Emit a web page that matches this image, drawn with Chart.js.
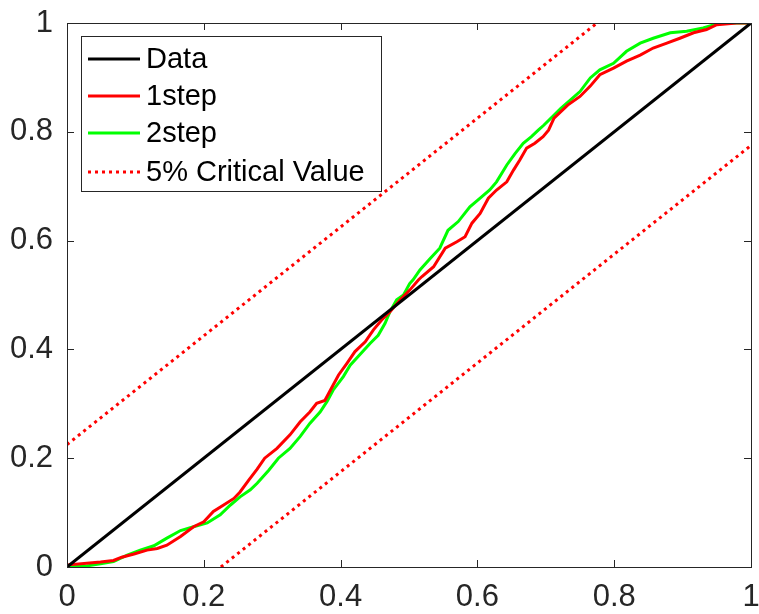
<!DOCTYPE html>
<html>
<head>
<meta charset="utf-8">
<script src="https://cdn.jsdelivr.net/npm/chart.js@4.4.1/dist/chart.umd.min.js"></script>
<style>
  html, body { margin: 0; padding: 0; background: #fff; }
  #wrap { width: 759px; height: 614px; }
</style>
</head>
<body>
<div id="wrap"><canvas id="c" width="759" height="614"></canvas></div>
<script>
// tick labels
const xTicks = [0, 0.2, 0.4, 0.6, 0.8, 1];
const yTicks = [0, 0.2, 0.4, 0.6, 0.8, 1];

// reference (45 degree) line
const dataX = [0, 1];
const dataY = [0, 1];

// 1step curve
const step1X = [0, 0.002, 0.029, 0.049, 0.068, 0.080, 0.098, 0.117, 0.132, 0.146, 0.166, 0.185, 0.200, 0.214, 0.229, 0.244, 0.253, 0.266, 0.278, 0.289, 0.307, 0.326, 0.341, 0.355, 0.365, 0.377, 0.385, 0.397, 0.409, 0.421, 0.436, 0.448, 0.460, 0.472, 0.487, 0.501, 0.514, 0.519, 0.536, 0.553, 0.570, 0.582, 0.592, 0.604, 0.616, 0.628, 0.643, 0.653, 0.662, 0.672, 0.684, 0.696, 0.704, 0.712, 0.732, 0.750, 0.765, 0.779, 0.799, 0.818, 0.838, 0.857, 0.877, 0.896, 0.916, 0.935, 0.950, 0.979, 1];
const step1Y = [0, 0.004, 0.007, 0.009, 0.012, 0.018, 0.024, 0.031, 0.034, 0.040, 0.056, 0.074, 0.083, 0.102, 0.114, 0.126, 0.138, 0.160, 0.180, 0.200, 0.218, 0.243, 0.267, 0.285, 0.301, 0.306, 0.325, 0.353, 0.374, 0.396, 0.414, 0.436, 0.454, 0.469, 0.491, 0.509, 0.528, 0.534, 0.552, 0.586, 0.598, 0.607, 0.632, 0.650, 0.678, 0.693, 0.708, 0.730, 0.748, 0.770, 0.779, 0.791, 0.803, 0.825, 0.849, 0.865, 0.884, 0.905, 0.917, 0.930, 0.941, 0.954, 0.963, 0.972, 0.982, 0.988, 0.997, 1.0, 1];

// 2step curve
const step2X = [0, 0.029, 0.049, 0.068, 0.088, 0.107, 0.127, 0.146, 0.166, 0.185, 0.205, 0.224, 0.239, 0.253, 0.268, 0.278, 0.295, 0.309, 0.326, 0.341, 0.355, 0.370, 0.380, 0.389, 0.404, 0.414, 0.428, 0.443, 0.455, 0.465, 0.472, 0.482, 0.492, 0.501, 0.506, 0.516, 0.531, 0.545, 0.557, 0.572, 0.589, 0.604, 0.618, 0.628, 0.643, 0.655, 0.667, 0.679, 0.689, 0.697, 0.722, 0.750, 0.765, 0.779, 0.799, 0.818, 0.838, 0.857, 0.882, 0.906, 0.930, 0.955, 1];
const step2Y = [0, 0.002, 0.006, 0.010, 0.022, 0.031, 0.039, 0.053, 0.067, 0.074, 0.081, 0.096, 0.114, 0.129, 0.142, 0.154, 0.178, 0.200, 0.218, 0.240, 0.264, 0.285, 0.304, 0.325, 0.350, 0.371, 0.390, 0.411, 0.426, 0.448, 0.469, 0.491, 0.500, 0.521, 0.528, 0.546, 0.567, 0.586, 0.619, 0.635, 0.662, 0.678, 0.693, 0.708, 0.739, 0.760, 0.779, 0.791, 0.803, 0.812, 0.843, 0.874, 0.899, 0.914, 0.926, 0.948, 0.963, 0.972, 0.982, 0.985, 0.991, 1.0, 1];

// 5% critical value bands
const critUpperX = [0, 0.775];
const critUpperY = [0.225, 1];
const critLowerX = [0.225, 1];
const critLowerY = [0, 0.775];

const seriesLabels = ['Data', '1step', '2step', '5% Critical Value'];

function pts(xs, ys) {
    return xs.map((x, i) => ({ x: x, y: ys[i] }));
}

const axisColor = '#262626';
const fontFamily = '"Liberation Sans", Arial, Helvetica, sans-serif';

// box round the axes with inward ticks, MATLAB style
const boxPlugin = {
    id: 'boxPlugin',
    afterDraw(chart) {
        const ctx = chart.ctx;
        const a = chart.chartArea;
        const xs = chart.scales.x, ys = chart.scales.y;
        ctx.save();
        ctx.strokeStyle = axisColor;
        ctx.lineWidth = 1;
        ctx.strokeRect(a.left + 0.5, a.top + 0.5, a.right - a.left, a.bottom - a.top);
        const len = 7;
        ctx.beginPath();
        xTicks.forEach(t => {
            const px = Math.round(xs.getPixelForValue(t)) + 0.5;
            ctx.moveTo(px, a.bottom); ctx.lineTo(px, a.bottom - len);
            ctx.moveTo(px, a.top); ctx.lineTo(px, a.top + len);
        });
        yTicks.forEach(t => {
            const py = Math.round(ys.getPixelForValue(t)) + 0.5;
            ctx.moveTo(a.left, py); ctx.lineTo(a.left + len, py);
            ctx.moveTo(a.right, py); ctx.lineTo(a.right - len, py);
        });
        ctx.stroke();

        // legend box inside the axes
        const lx = 81, ly = 36, lw = 300, lh = 155;
        ctx.fillStyle = '#fff';
        ctx.fillRect(lx, ly, lw, lh);
        ctx.strokeRect(lx + 0.5, ly + 0.5, lw, lh);
        const rowY = [59, 96, 133, 172];
        ctx.font = '29px ' + fontFamily;
        ctx.textBaseline = 'middle';
        rowY.forEach((ry, i) => {
            const ds = chart.data.datasets[i];
            ctx.beginPath();
            ctx.strokeStyle = ds.borderColor;
            ctx.lineWidth = ds.borderWidth;
            ctx.setLineDash(ds.borderDash || []);
            ctx.moveTo(88, ry);
            ctx.lineTo(140, ry);
            ctx.stroke();
            ctx.setLineDash([]);
            ctx.fillStyle = '#000';
            ctx.fillText(ds.label, 146, ry + 1);
        });
        ctx.restore();
    }
};

// keep edge labels from shrinking the plot area
function noEdgePadding(s) {
    s.paddingLeft = 0;
    s.paddingRight = 0;
    s.paddingTop = 0;
    s.paddingBottom = 0;
}

new Chart(document.getElementById('c').getContext('2d'), {
    type: 'line',
    data: {
        datasets: [
            {
                label: seriesLabels[0],
                data: pts(dataX, dataY),
                borderColor: '#000000',
                borderWidth: 3
            },
            {
                label: seriesLabels[1],
                data: pts(step1X, step1Y),
                borderColor: '#ff0000',
                borderWidth: 3
            },
            {
                label: seriesLabels[2],
                data: pts(step2X, step2Y),
                borderColor: '#00ff00',
                borderWidth: 3
            },
            {
                label: seriesLabels[3],
                data: pts(critUpperX, critUpperY),
                borderColor: '#ff0000',
                borderWidth: 3,
                borderDash: [3, 4]
            },
            {
                label: seriesLabels[3] + ' (lower)',
                data: pts(critLowerX, critLowerY),
                borderColor: '#ff0000',
                borderWidth: 3,
                borderDash: [3, 4]
            }
        ]
    },
    options: {
        responsive: false,
        animation: false,
        elements: {
            point: { radius: 0 },
            line: { tension: 0, borderCapStyle: 'butt' }
        },
        layout: { padding: { top: 23, right: 8, left: 0, bottom: 0 } },
        plugins: {
            legend: { display: false },
            tooltip: { enabled: false }
        },
        scales: {
            x: {
                type: 'linear',
                min: 0,
                max: 1,
                grid: { display: false, drawTicks: false },
                border: { display: false },
                afterBuildTicks: s => { s.ticks = xTicks.map(v => ({ value: v })); },
                afterFit: s => { s.height = 47; noEdgePadding(s); },
                ticks: {
                    color: axisColor,
                    font: { size: 31, family: fontFamily },
                    padding: 12,
                    maxRotation: 0,
                    callback: v => String(v)
                }
            },
            y: {
                type: 'linear',
                min: 0,
                max: 1,
                grid: { display: false, drawTicks: false },
                border: { display: false },
                afterBuildTicks: s => { s.ticks = yTicks.map(v => ({ value: v })); },
                afterFit: s => { s.width = 67; noEdgePadding(s); },
                ticks: {
                    color: axisColor,
                    font: { size: 31, family: fontFamily },
                    padding: 14,
                    callback: v => String(v)
                }
            }
        }
    },
    plugins: [boxPlugin]
});
</script>
</body>
</html>
